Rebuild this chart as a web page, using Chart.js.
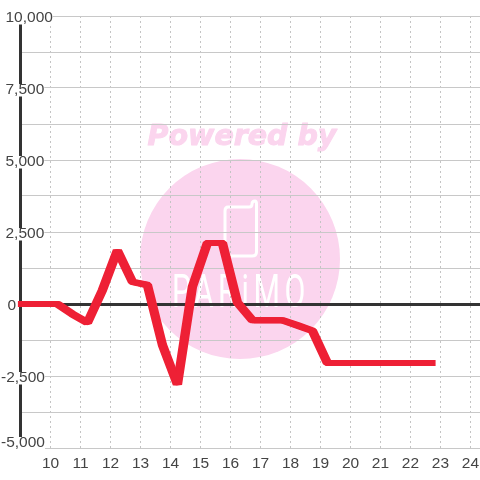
<!DOCTYPE html>
<html><head><meta charset="utf-8">
<style>html,body{margin:0;padding:0;background:#fff}#w{width:480px;height:480px}</style>
<script src="https://cdn.jsdelivr.net/npm/chart.js@4"></script></head>
<body><div id="w"><canvas id="c" width="480" height="480"></canvas></div>
<script>
const xValues=[9.07,9.23,9.73,10.23,10.73,11.23,11.73,12.23,12.73,13.23,13.73,14.23,14.73,15.23,15.73,16.23,16.73,17.23,17.73,18.23,18.73,19.23,19.73,20.23,20.73,21.23,21.73,22.23,22.68];
const yValues=[0,0,0,0,-350,-650,480,1860,770,660,-1420,-2795,600,2120,2120,50,-565,-565,-565,-740,-930,-2050,-2050,-2050,-2050,-2050,-2050,-2050,-2050];
const seriesName="Series";
const labelledTicks=[10000,7500,5000,2500,0,-2500,-5000];
const watermarkTitle="Powered by";
const watermarkBrand="PARiMO";
const FONT="15.5px 'Liberation Sans', Arial, sans-serif";

const watermark={id:'watermark',beforeDraw(chart){
  const c=chart.ctx;c.save();
  c.fillStyle='#fbd5ee';
  c.beginPath();c.arc(240,259,100,0,Math.PI*2);c.fill();
  c.font="italic bold 28.5px 'DejaVu Sans'";c.textAlign='center';c.textBaseline='alphabetic';
  c.fillText(watermarkTitle,242,145);
  c.strokeStyle='#fbd5ee';c.lineWidth=1;c.lineJoin='round';
  c.strokeText(watermarkTitle,242,145);
  c.strokeStyle='#fff';c.lineWidth=3;c.lineJoin='round';c.lineCap='round';
  c.beginPath();c.moveTo(228,207);c.lineTo(249,207);c.quadraticCurveTo(252,207,252,204);
  c.quadraticCurveTo(252,201,255,201);c.quadraticCurveTo(256.5,201,256.5,204);
  c.lineTo(256.5,252);c.quadraticCurveTo(256.5,256,252,256);c.lineTo(229,256);
  c.quadraticCurveTo(225,256,225,252);c.lineTo(225,211);c.quadraticCurveTo(225,207,228,207);c.stroke();
  c.fillStyle='#fff';c.font="400 46px Roboto, 'Liberation Sans'";c.textAlign='left';
  c.letterSpacing='7px';
  c.fillText(watermarkBrand,172,307,138);
  c.restore();
  const s=chart.scales.y;
  const items=s.getLabelItems(chart.chartArea);
  c.save();c.font=FONT;
  items.forEach(it=>{
    if(it._done)return;it._done=true;
    const o=it.options,t=String(it.label);
    if(!t){o.backdrop=undefined;return;}
    const neg=t[0]==='-';const isZero=t==='0';
    const gy=o.translation[1];
    const bottomRow=t==='-5,000';
    const tx=neg?1:(isZero?7.5:5.5);
    const ty=bottomRow?gy-5.5:gy+1.5;
    o.textAlign='left';o.textBaseline='middle';
    o.translation=[tx,ty];
    o.backdrop={left:0,top:-5.5,width:c.measureText(t).width,height:12.5,color:'#fff'};
    it.textOffset=0;
  });
  c.restore();
},
// the reference's pen is wider than it is tall: redraw the library's line element shifted sideways
beforeDatasetDraw(chart,args){
  const line=chart.getDatasetMeta(args.index).dataset,c=chart.ctx;
  [-1.7,1.7].forEach(dx=>{c.save();c.translate(dx,0);line.draw(c,chart.chartArea);c.restore();});
}};

new Chart(document.getElementById('c'),{
  type:'line',
  data:{datasets:[{label:seriesName,data:xValues.map((x,i)=>({x,y:yValues[i]})),
    borderColor:'#ee2035',borderWidth:6,borderCapStyle:'square',borderJoinStyle:'bevel',
    pointRadius:0,tension:0,fill:false,clip:false}]},
  options:{responsive:false,animation:false,events:[],
    layout:{autoPadding:false,padding:{top:16,left:0,right:0,bottom:0}},
    plugins:{legend:{display:false},title:{display:false},tooltip:{enabled:false}},
    scales:{
      x:{type:'linear',min:8.983,max:24.317,
        border:{display:false,dash:[2,3]},
        grid:{color:'#c4c4c4',lineWidth:1,drawTicks:false},
        afterFit(s){s.height=32;s.paddingLeft=0;s.paddingRight=0;},
        afterBuildTicks(s){s.ticks=s.ticks.filter(t=>Number.isInteger(t.value)&&t.value>=10);},
        ticks:{stepSize:1,includeBounds:false,autoSkip:false,maxRotation:0,minRotation:0,padding:6,color:'#444',font:{family:"'Liberation Sans', Arial, sans-serif",size:15.5},callback:v=>String(v)}},
      y:{type:'linear',min:-5000,max:10000,
        border:{display:true,color:'#333',width:3,z:0},
        grid:{color:c=>c.tick&&c.tick.value===0?'#333':'#c8c8c8',lineWidth:c=>c.tick&&c.tick.value===0?3:1,drawTicks:false},
        afterFit(s){s.width=20;},
        ticks:{mirror:true,stepSize:1250,autoSkip:false,padding:0,color:'#444',font:{family:"'Liberation Sans', Arial, sans-serif",size:15.5},
          showLabelBackdrop:true,backdropColor:'#fff',backdropPadding:0,
          callback:v=>labelledTicks.includes(v)?v.toLocaleString('en-US'):''}}
    }},
  plugins:[watermark]
});
</script></body></html>
